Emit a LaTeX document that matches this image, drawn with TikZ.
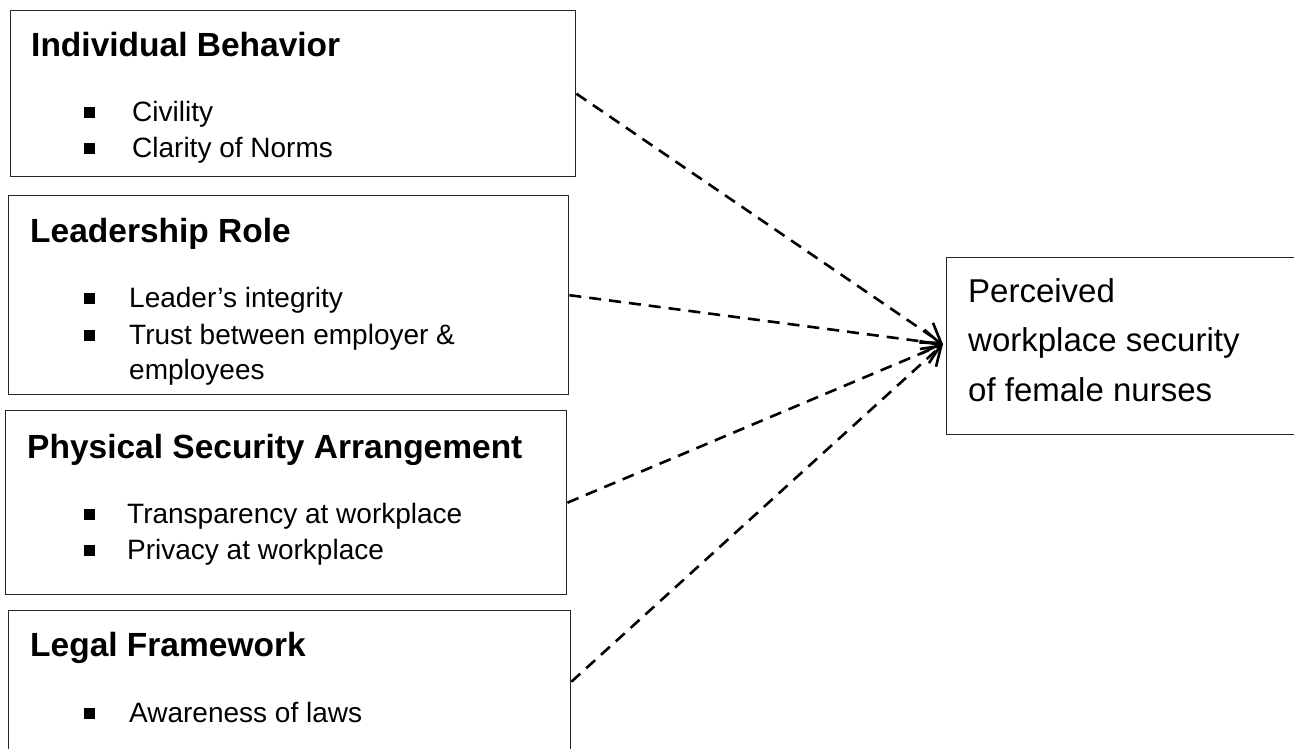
\documentclass[tikz,border=0pt]{standalone}
\usepackage{fontspec}
\setmainfont{Liberation Sans}
\usetikzlibrary{arrows.meta}
\tikzset{
  frame/.style={draw=black!85, line width=1.4pt, inner sep=0pt, anchor=north west},
  head/.style={anchor=base west, inner sep=0pt, font=\bfseries\fontsize{33.5}{36}\selectfont},
  item/.style={anchor=base west, inner sep=0pt, font=\fontsize{28}{30}\selectfont},
  bul/.style={fill=black, inner sep=0pt, minimum size=11pt},
  conn/.style={line width=2.6pt, dash pattern=on 12pt off 8pt,
    -{Straight Barb[length=18pt,width=24pt,line width=2.6pt]}}
}
\begin{document}
\begin{tikzpicture}[x=1pt,y=-1pt]
\useasboundingbox (0,0) rectangle (1294,749);
\clip (0,0) rectangle (1294,749);
% boxes
\node[frame, minimum width=565pt, minimum height=166pt] (b1) at (10,10) {};
\node[frame, minimum width=560pt, minimum height=199pt] (b2) at (8,195) {};
\node[frame, minimum width=561pt, minimum height=184pt] (b3) at (5,410) {};
\node[frame, minimum width=562pt, minimum height=142pt] (b4) at (8,610) {};
\node[frame, minimum width=355pt, minimum height=177pt] (r) at (946,257) {};
% headings
\node[head] (h1) at (31,57) {Individual Behavior};
\node[head] (h2) at (30,242) {Leadership Role};
\node[head] (h3) at (27,458) {Physical Security Arrangement};
\node[head] (h4) at (30,656) {Legal Framework};
% items
\node[bul] (s11) at (89,113) {};
\node[item] (t11) at (132,122) {Civility};
\node[bul] (s12) at (89,149) {};
\node[item] (t12) at (132,158) {Clarity of Norms};
\node[bul] (s21) at (89,298) {};
\node[item] (t21) at (129,307) {Leader’s integrity};
\node[bul] (s22) at (89,335) {};
\node[item] (t22) at (129,344) {Trust between employer \&};
\node[item] (t23) at (129,379) {employees};
\node[bul] (s31) at (89,514) {};
\node[item] (t31) at (127,523) {Transparency at workplace};
\node[bul] (s32) at (89,550) {};
\node[item] (t32) at (127,559) {Privacy at workplace};
\node[bul] (s41) at (89,713) {};
\node[item] (t41) at (129,722) {Awareness of laws};
% outcome text
\node[anchor=north west, inner sep=0pt, align=left, font=\fontsize{33}{49.5}\selectfont] (rt) at (968,278)
  {Perceived\\workplace security\\of female nurses};
% connectors
\coordinate (tip) at ([xshift=-3pt,yshift=2pt]r.west);
\draw[conn] (b1.east) -- (tip);
\draw[conn] (b2.east) -- (tip);
\draw[conn] (b3.east) -- (tip);
\draw[conn] (b4.east) -- (tip);
\end{tikzpicture}
\end{document}
